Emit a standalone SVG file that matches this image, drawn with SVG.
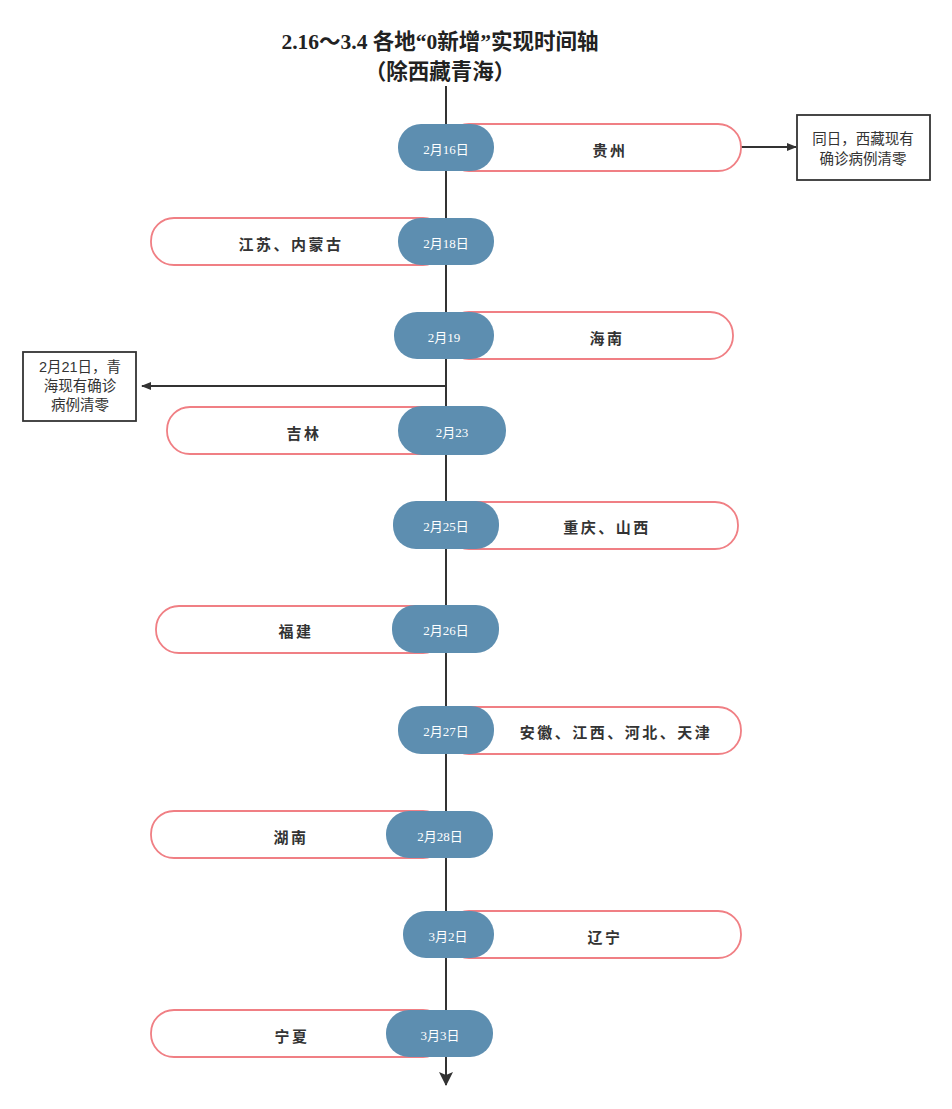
<svg xmlns="http://www.w3.org/2000/svg" width="952" height="1109" viewBox="0 0 952 1109">
<style>
.t{font-family:"Liberation Serif","Noto Sans CJK SC",serif;font-weight:bold;fill:#222}
.lbl{font-family:"Liberation Serif","Noto Sans CJK SC",serif;font-weight:bold;font-size:15px;fill:#333;text-anchor:middle;letter-spacing:2.5px}
.dt{font-family:"Liberation Serif","Noto Sans CJK SC",serif;font-size:13px;fill:#fff;text-anchor:middle}
.note{font-family:"Liberation Sans","Noto Sans CJK SC",sans-serif;font-size:14.5px;fill:#333;text-anchor:middle}
.pill{fill:#fff;stroke:#f07f84;stroke-width:1.8}
.blue{fill:#5d8eb0}
.box{fill:#fff;stroke:#333;stroke-width:1.8}
.ln{stroke:#333;stroke-width:2;fill:none}
</style>
<defs>
<marker id="ah" markerWidth="10" markerHeight="10" refX="9" refY="5" orient="auto" markerUnits="userSpaceOnUse">
<path d="M0,1 L10,5 L0,9 Z" fill="#333"/>
</marker>
<marker id="ahb" markerWidth="14" markerHeight="16" refX="13" refY="7" orient="auto" markerUnits="userSpaceOnUse">
<path d="M0,0 L14,7 L0,14 L3,7 Z" fill="#333"/>
</marker>
</defs>
<rect width="952" height="1109" fill="#fff"/>
<g id="title">
<text class="t" x="440" y="49" font-size="21.5" text-anchor="middle">2.16～3.4 各地“0新增”实现时间轴</text>
<text class="t" x="440" y="79" font-size="21.5" text-anchor="middle">（除西藏青海）</text>
</g>
<g id="connectors">
<line class="ln" x1="446" y1="86" x2="446" y2="1085" marker-end="url(#ahb)"/>
<line class="ln" x1="741" y1="147" x2="796" y2="147" marker-end="url(#ah)"/>
<line class="ln" x1="446" y1="386" x2="142" y2="386" marker-end="url(#ah)"/>
</g>
<g id="n1">
<rect class="pill" x="446" y="124" width="295" height="47" rx="23"/>
<rect class="blue" x="398" y="124" width="96" height="47" rx="23"/>
<text class="dt" x="446" y="154">2月16日</text>
<text class="lbl" x="610" y="156">贵州</text>
</g>
<g id="note1">
<rect class="box" x="797" y="115" width="133" height="65"/>
<text class="note" x="863" y="144">同日，西藏现有</text>
<text class="note" x="863" y="164">确诊病例清零</text>
</g>
<g id="n2">
<rect class="pill" x="151" y="218" width="295" height="47" rx="23"/>
<rect class="blue" x="398" y="218" width="96" height="47" rx="23"/>
<text class="dt" x="446" y="248">2月18日</text>
<text class="lbl" x="291" y="250">江苏、内蒙古</text>
</g>
<g id="n3">
<rect class="pill" x="446" y="312" width="287" height="47" rx="23"/>
<rect class="blue" x="394" y="312" width="100" height="47" rx="23"/>
<text class="dt" x="444" y="342">2月19</text>
<text class="lbl" x="607" y="344">海南</text>
</g>
<g id="note2">
<rect class="box" x="23" y="352" width="113" height="69"/>
<text class="note" x="80" y="372">2月21日，青</text>
<text class="note" x="80" y="391">海现有确诊</text>
<text class="note" x="80" y="410">病例清零</text>
</g>
<g id="n4">
<rect class="pill" x="167" y="407" width="279" height="47" rx="23"/>
<rect class="blue" x="398" y="406" width="108" height="49" rx="24"/>
<text class="dt" x="452" y="437">2月23</text>
<text class="lbl" x="304" y="439">吉林</text>
</g>
<g id="n5">
<rect class="pill" x="446" y="502" width="292" height="47" rx="23"/>
<rect class="blue" x="393" y="501" width="106" height="48" rx="23"/>
<text class="dt" x="446" y="531">2月25日</text>
<text class="lbl" x="607" y="533">重庆、山西</text>
</g>
<g id="n6">
<rect class="pill" x="156" y="606" width="290" height="47" rx="23"/>
<rect class="blue" x="392" y="605" width="107" height="48" rx="23"/>
<text class="dt" x="446" y="635">2月26日</text>
<text class="lbl" x="296" y="637">福建</text>
</g>
<g id="n7">
<rect class="pill" x="446" y="707" width="295" height="47" rx="23"/>
<rect class="blue" x="398" y="706" width="96" height="48" rx="23"/>
<text class="dt" x="446" y="736">2月27日</text>
<text class="lbl" x="616" y="738">安徽、江西、河北、天津</text>
</g>
<g id="n8">
<rect class="pill" x="151" y="811" width="295" height="47" rx="23"/>
<rect class="blue" x="386" y="811" width="107" height="47" rx="23"/>
<text class="dt" x="440" y="841">2月28日</text>
<text class="lbl" x="291" y="843">湖南</text>
</g>
<g id="n9">
<rect class="pill" x="446" y="911" width="295" height="47" rx="23"/>
<rect class="blue" x="403" y="911" width="91" height="47" rx="23"/>
<text class="dt" x="448" y="941">3月2日</text>
<text class="lbl" x="605" y="943">辽宁</text>
</g>
<g id="n10">
<rect class="pill" x="151" y="1010" width="295" height="47" rx="23"/>
<rect class="blue" x="386" y="1010" width="107" height="47" rx="23"/>
<text class="dt" x="440" y="1040">3月3日</text>
<text class="lbl" x="292" y="1042">宁夏</text>
</g>
</svg>
